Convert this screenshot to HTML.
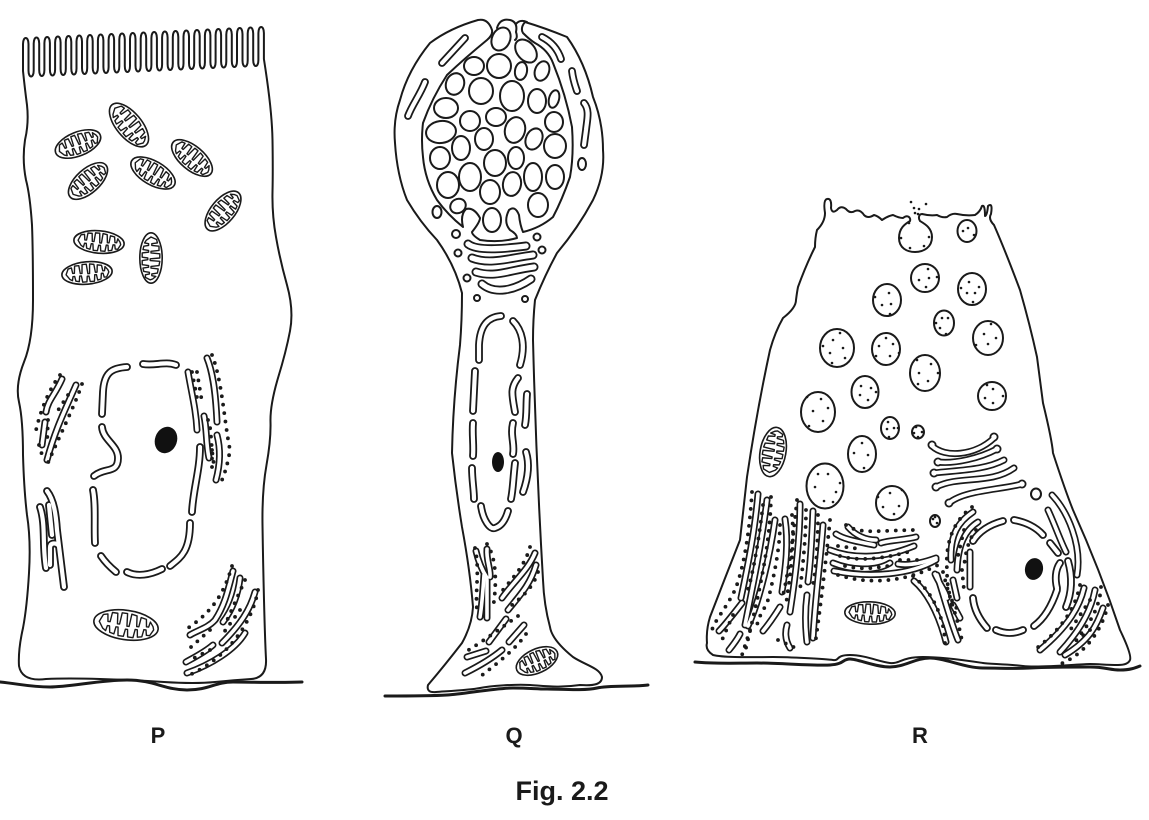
<!DOCTYPE html>
<html lang="en"><head><meta charset="utf-8"><title>Fig. 2.2</title>
<style>
html,body{margin:0;padding:0;background:#fff}
svg{display:block}
.l{fill:none;stroke:#1a1a1a;stroke-width:2;stroke-linecap:round;stroke-linejoin:round}
.b{fill:none;stroke:#1a1a1a;stroke-width:3;stroke-linecap:round;stroke-linejoin:round}
.c ellipse{fill:#fff;stroke:#1a1a1a;stroke-width:2}
.d{fill:none;stroke:#1a1a1a;stroke-width:3.8;stroke-linecap:round;stroke-dasharray:0 8.5}
.s{fill:none;stroke:#1a1a1a;stroke-width:2.6;stroke-linecap:round}
.m1{fill:#fff;stroke:#1a1a1a;stroke-width:1.6;vector-effect:non-scaling-stroke}
.m2{fill:none;stroke:#1a1a1a;stroke-width:1.4;stroke-linejoin:round;vector-effect:non-scaling-stroke}
text{font-family:"Liberation Sans",sans-serif;font-weight:bold;fill:#1a1a1a}
</style></head>
<body>
<svg width="1149" height="820" viewBox="0 0 1149 820" xmlns="http://www.w3.org/2000/svg">
<defs>
<g id="m"><ellipse class="m1" rx="30" ry="14"/><path class="m2" d="M-25,0 L-22,-7 L-18,-8 L-17,-1 L-15,-1 L-14,-10 L-9,-10 L-8,0 L-6,0 L-5,-11 L0,-11 L1,1 L3,1 L4,-11 L9,-10 L10,0 L12,0 L13,-9 L18,-8 L19,-1 L21,-1 L22,-6 L25,-2 L26,1 L23,7 L20,7 L19,2 L17,2 L16,9 L12,10 L11,3 L9,3 L8,11 L3,11 L2,4 L0,4 L-1,11 L-6,11 L-7,3 L-9,3 L-10,10 L-14,9 L-15,3 L-17,3 L-18,8 L-21,6 Z"/></g>

<g id="a" fill="none" stroke-linecap="round" stroke-linejoin="round">
<!-- P nucleus -->
<path d="M127,367 C112,368 104,372 103,392 L102,414"/>
<path d="M143,364 C155,366 165,361 176,365"/>
<path d="M102,427 C103,440 118,445 118,458 C118,474 105,467 94,476"/>
<path d="M93,490 C96,505 94,525 95,543"/>
<path d="M101,556 C105,562 110,567 116,572"/>
<path d="M127,572 C137,577 150,575 162,569"/>
<path d="M170,566 C180,558 190,552 190,523"/>
<path d="M200,447 C200,470 193,490 192,512"/>
<path d="M47,491 C54,500 56,515 57,530 L64,587"/>
<path d="M40,507 C46,525 42,545 46,568"/>
<path d="M49,505 L52,535"/>
<path d="M50,565 L50,548 C50,542 56,543 58,545"/>
<!-- Q tubes -->
<path d="M442,63 L465,38"/>
<path d="M408,116 C412,105 420,95 425,82"/>
<path d="M542,37 C552,42 558,50 561,59"/>
<path d="M572,71 C573,80 575,85 577,91"/>
<path d="M584,103 C590,110 587,120 586,130 L584,145"/>
<path d="M501,316 C488,317 480,325 479,345 L479,360"/>
<path d="M513,321 C522,330 526,345 520,365"/>
<path d="M475,371 L473,411"/>
<path d="M473,423 C472,435 474,445 473,456"/>
<path d="M472,468 C472,480 474,490 474,499"/>
<path d="M518,378 C510,388 512,395 515,412"/>
<path d="M527,394 C526,405 527,415 525,425"/>
<path d="M513,423 C510,435 515,445 513,454"/>
<path d="M526,452 C530,465 528,478 523,492"/>
<path d="M515,463 C513,480 513,490 511,499"/>
<path d="M481,506 C483,520 490,530 495,528 C502,526 506,518 508,511"/>
<!-- R nucleus -->
<path d="M973,541 C980,530 992,524 1003,521"/>
<path d="M1014,520 C1025,522 1036,527 1043,535"/>
<path d="M1050,543 L1058,553"/>
<path d="M1068,561 C1072,575 1073,590 1066,607"/>
<path d="M1060,563 C1055,570 1055,580 1057,588"/>
<path d="M1057,590 C1052,605 1045,618 1034,626"/>
<path d="M996,630 C1005,634 1014,634 1023,630"/>
<path d="M973,598 C974,610 980,620 987,628"/>
</g>

<g id="t" fill="none" stroke-linecap="round" stroke-linejoin="round">
<!-- P ER -->
<path d="M62,379 C55,395 48,400 46,412"/><path d="M76,385 C65,410 55,430 47,460"/><path d="M45,422 L42,445"/>
<path d="M207,358 C214,375 216,400 217,422"/><path d="M188,372 C192,395 196,410 197,430"/><path d="M204,416 C207,430 206,445 209,458"/><path d="M217,435 C221,450 220,465 216,480"/>
<path d="M233,571 C228,590 225,605 215,620 C208,628 198,630 190,635"/><path d="M240,578 C238,595 232,610 223,622"/><path d="M255,592 C250,610 240,625 222,643"/><path d="M213,645 C205,652 195,657 186,662"/><path d="M245,633 C235,650 210,665 187,673"/>
<!-- Q ER -->
<path d="M487,549 C486,560 491,570 490,577"/><path d="M476,551 C478,560 482,570 487,578"/><path d="M487,580 L487,618"/><path d="M484,575 C483,590 482,605 480,617"/>
<path d="M535,553 C528,570 515,580 502,598"/><path d="M536,565 C530,585 520,595 508,610"/>
<path d="M506,619 L489,642"/><path d="M524,625 L509,642"/><path d="M502,650 C490,660 475,668 465,673"/><path d="M486,651 L467,657"/>
<!-- R Golgi -->
<path d="M938,462 C955,464 980,458 997,449"/><path d="M934,473 C960,470 985,470 1004,460"/><path d="M936,487 C960,475 990,485 1014,468"/><path d="M949,503 C965,490 1000,490 1022,484"/><path d="M932,446 C945,458 975,456 994,438"/>
<!-- R middle ER -->
<path d="M836,534 C845,540 860,542 874,545"/><path d="M848,527 C855,535 865,540 876,540"/><path d="M881,543 C890,540 905,540 916,537"/><path d="M830,550 C850,558 880,560 914,546"/><path d="M833,563 C850,570 875,572 890,563"/><path d="M834,571 C870,578 910,575 936,560"/><path d="M898,564 C910,566 925,562 936,558"/>
<!-- R left ER -->
<path d="M758,494 C755,530 748,565 741,598"/><path d="M767,500 C762,540 755,575 745,625"/><path d="M775,520 C770,555 760,600 748,626"/><path d="M785,519 C789,545 785,570 782,592"/><path d="M800,504 C800,540 795,580 790,612"/><path d="M813,511 C812,535 811,560 808,582"/><path d="M823,525 C820,565 815,600 813,638"/><path d="M807,595 C805,610 805,625 807,642"/><path d="M787,625 C785,632 785,640 790,648"/><path d="M780,607 C775,615 768,625 763,631"/><path d="M742,603 C735,612 725,625 719,631"/><path d="M740,634 C737,640 733,645 729,650"/>
<!-- R ER near nucleus -->
<path d="M973,512 C958,522 950,535 951,560"/><path d="M978,522 C965,530 958,545 957,570"/><path d="M970,552 L970,587"/><path d="M953,580 L957,598"/><path d="M935,574 C940,585 945,590 947,598"/><path d="M914,581 C925,590 938,610 946,642"/><path d="M937,575 C945,600 950,620 958,640"/><path d="M953,605 L960,618"/>
<path d="M1052,495 C1068,512 1082,545 1077,575"/><path d="M1048,510 C1055,525 1060,540 1066,552"/>
<path d="M1084,588 C1080,605 1070,625 1040,650"/><path d="M1095,590 C1092,605 1085,625 1060,652"/><path d="M1103,608 C1097,625 1090,640 1065,655"/>
</g>

<g id="g" fill="none" stroke-linecap="round" stroke-linejoin="round">
<path d="M468,244 C478,252 510,248 526,246"/>
<path d="M472,258 C490,265 510,258 533,255"/>
<path d="M476,272 C495,278 510,270 534,267"/>
<path d="M482,284 C495,295 515,290 531,279"/>
<path d="M932,445h.01"/><path d="M994,437h.01"/><path d="M938,462h.01"/><path d="M997,449h.01"/><path d="M934,473h.01"/><path d="M936,487h.01"/><path d="M1022,484h.01"/><path d="M949,503h.01"/>
</g>
</defs>

<!-- ===== Cell P ===== -->
<path class="l" d="M23,71 v-27 c0,-8 5.5,-8 5.5,0 v26.5 c0,8 5.2,8 5.2,0 v-27 c0,-8 5.5,-8 5.5,0 v26.5 c0,8 5.2,8 5.2,0 v-27 c0,-8 5.5,-8 5.5,0 v26.5 c0,8 5.2,8 5.2,0 v-27 c0,-8 5.5,-8 5.5,0 v26.5 c0,8 5.2,8 5.2,0 v-27 c0,-8 5.5,-8 5.5,0 v26.5 c0,8 5.2,8 5.2,0 v-27 c0,-8 5.5,-8 5.5,0 v26.5 c0,8 5.2,8 5.2,0 v-27 c0,-8 5.5,-8 5.5,0 v26.5 c0,8 5.2,8 5.2,0 v-27 c0,-8 5.5,-8 5.5,0 v26.5 c0,8 5.2,8 5.2,0 v-27 c0,-8 5.5,-8 5.5,0 v26.5 c0,8 5.2,8 5.2,0 v-27 c0,-8 5.5,-8 5.5,0 v26.5 c0,8 5.2,8 5.2,0 v-27 c0,-8 5.5,-8 5.5,0 v26.5 c0,8 5.2,8 5.2,0 v-27 c0,-8 5.5,-8 5.5,0 v26.5 c0,8 5.2,8 5.2,0 v-27 c0,-8 5.5,-8 5.5,0 v26.5 c0,8 5.2,8 5.2,0 v-27 c0,-8 5.5,-8 5.5,0 v26.5 c0,8 5.2,8 5.2,0 v-27 c0,-8 5.5,-8 5.5,0 v26.5 c0,8 5.2,8 5.2,0 v-27 c0,-8 5.5,-8 5.5,0 v26.5 c0,8 5.2,8 5.2,0 v-27 c0,-8 5.5,-8 5.5,0 v26.5 c0,8 5.2,8 5.2,0 v-27 c0,-8 5.5,-8 5.5,0 v26.5 c0,8 5.2,8 5.2,0 v-27 c0,-8 5.5,-8 5.5,0 v26.5 c0,8 5.2,8 5.2,0 v-27 c0,-8 5.5,-8 5.5,0 v26.5 c0,8 5.2,8 5.2,0 v-27 c0,-8 5.5,-8 5.5,0 v26.5 c0,8 5.2,8 5.2,0 v-27 c0,-8 5.5,-8 5.5,0 v26.5 c0,8 5.2,8 5.2,0 v-27 c0,-8 5.5,-8 5.5,0 v26 Q272,110 272.5,140 Q273,170 272.5,192 Q272,215 276,237 Q280,260 287,285 Q294,310 290,331 Q286,352 278,378 Q270,405 270.5,422 Q271,440 266.5,465 Q262,490 262.5,525 Q263,560 264,600 Q265,640 266,659 Q267,678 251,679 Q235,680 215,682 Q195,684 164,682 Q133,680 100,679 Q67,678 46,679 Q22,682 19,666 Q18,650 23,628 Q27,607 29,573 Q31,540 27,515 Q24,490 23,455 Q23,420 19,402 Q15,385 24,362 Q33,340 33,300 Q33,250 32,225 Q30,195 26,180 Q22,160 25,140 Q29,123 27,105 Q25,90 23,71"/>
<path class="b" d="M0,682 C20,684 30,687 50,687 S100,680 127,680 S165,690 187,690 S215,682 233,682 S280,683 302,682"/>
<use href="#m" transform="translate(78 144) rotate(-22) scale(.8 .85)"/>
<use href="#m" transform="translate(129 125) rotate(50) scale(.88 .9)"/>
<use href="#m" transform="translate(88 181) rotate(-42) scale(.8 .85)"/>
<use href="#m" transform="translate(153 173) rotate(30) scale(.82 .85)"/>
<use href="#m" transform="translate(192 158) rotate(40) scale(.82 .85)"/>
<use href="#m" transform="translate(223 211) rotate(-50) scale(.8 .85)"/>
<use href="#m" transform="translate(99 242) rotate(5) scale(.84 .8)"/>
<use href="#m" transform="translate(87 273) rotate(-5) scale(.84 .8)"/>
<use href="#m" transform="translate(151 258) rotate(90) scale(.84 .8)"/>
<use href="#m" transform="translate(126 625) rotate(8) scale(1.08 1.05)"/>
<ellipse cx="166" cy="440" rx="11" ry="13.5" transform="rotate(20 166 440)" fill="#111"/>

<!-- ===== Cell Q ===== -->
<path class="l" d="M492,30 Q488,18 478,20 Q450,28 430,43 Q408,70 400,100 Q393,120 395,143 Q397,175 407,200 Q420,222 437,240 Q455,265 462,293 Q462,320 460,345 Q453,400 452,453 Q456,490 462,527 Q470,570 473,607 Q472,625 462,643 Q445,665 428,685 Q426,693 436,692 C450,691 470,690 480,688 S515,684 530,685 S560,688 580,685 C595,686 602,684 602,677 C600,668 585,665 573,657 Q552,640 550,627 Q544,605 543,580 Q536,460 533,340 Q533,320 535,300 Q545,275 557,253 Q578,228 593,200 Q605,175 603,150 Q603,122 593,97 Q585,62 567,37 Q545,28 525,22 Q520,28 523,33 Q530,40 535,43 Q548,50 553,63 Q566,95 572,127 Q574,155 570,177 Q562,200 553,217 Q540,228 523,232 Q520,225 519,215 Q515,205 509,210 Q503,222 510,230 Q517,234 517,238 Q500,243 480,240 Q472,235 472,232 Q480,222 480,218 Q474,207 466,209 Q460,215 463,227 Q448,215 437,200 Q425,180 423,157 Q421,140 423,123 Q432,98 447,75 Q465,58 487,40 Q493,35 492,30"/>
<path class="l" d="M497,28 Q500,18 510,20 Q518,22 516,32 Q518,38 515,40 M516,24 Q520,19 527,22"/>
<g class="c">
<ellipse cx="501" cy="39" rx="9" ry="12" transform="rotate(25 501 39)"/>
<ellipse cx="526" cy="51" rx="9" ry="13" transform="rotate(-40 526 51)"/>
<ellipse cx="474" cy="66" rx="10" ry="9"/><ellipse cx="499" cy="66" rx="12" ry="12"/>
<ellipse cx="521" cy="71" rx="6" ry="9" transform="rotate(10 521 71)"/>
<ellipse cx="542" cy="71" rx="7" ry="10" transform="rotate(20 542 71)"/>
<ellipse cx="455" cy="84" rx="9" ry="11" transform="rotate(20 455 84)"/>
<ellipse cx="481" cy="91" rx="12" ry="13"/><ellipse cx="512" cy="96" rx="12" ry="15"/>
<ellipse cx="537" cy="101" rx="9" ry="12"/>
<ellipse cx="554" cy="99" rx="5" ry="9" transform="rotate(15 554 99)"/>
<ellipse cx="446" cy="108" rx="12" ry="10"/><ellipse cx="470" cy="121" rx="10" ry="10"/>
<ellipse cx="496" cy="117" rx="10" ry="9"/><ellipse cx="554" cy="122" rx="9" ry="10"/>
<ellipse cx="441" cy="132" rx="15" ry="11" transform="rotate(-8 441 132)"/>
<ellipse cx="515" cy="130" rx="10" ry="13" transform="rotate(15 515 130)"/>
<ellipse cx="484" cy="139" rx="9" ry="11"/>
<ellipse cx="534" cy="139" rx="8" ry="11" transform="rotate(25 534 139)"/>
<ellipse cx="555" cy="146" rx="11" ry="12"/><ellipse cx="461" cy="148" rx="9" ry="12"/>
<ellipse cx="440" cy="158" rx="10" ry="11"/><ellipse cx="516" cy="158" rx="8" ry="11"/>
<ellipse cx="495" cy="163" rx="11" ry="13"/><ellipse cx="470" cy="177" rx="11" ry="14"/>
<ellipse cx="533" cy="177" rx="9" ry="14"/><ellipse cx="555" cy="177" rx="9" ry="12"/>
<ellipse cx="512" cy="184" rx="9" ry="12" transform="rotate(10 512 184)"/>
<ellipse cx="448" cy="185" rx="11" ry="13"/><ellipse cx="490" cy="192" rx="10" ry="12"/>
<ellipse cx="538" cy="205" rx="10" ry="12"/>
<ellipse cx="458" cy="206" rx="8" ry="7" transform="rotate(-30 458 206)"/>
<ellipse cx="492" cy="220" rx="9" ry="12"/>
<ellipse cx="437" cy="212" rx="4.5" ry="6"/><ellipse cx="456" cy="234" rx="4" ry="4"/>
<ellipse cx="458" cy="253" rx="3.5" ry="3.5"/><ellipse cx="467" cy="278" rx="3.5" ry="3.5"/>
<ellipse cx="477" cy="298" rx="3" ry="3"/><ellipse cx="525" cy="299" rx="3" ry="3"/>
<ellipse cx="537" cy="237" rx="3.5" ry="3.5"/><ellipse cx="542" cy="250" rx="3.5" ry="3.5"/>
<ellipse cx="582" cy="164" rx="4" ry="6"/>
</g>
<use href="#m" transform="translate(537 661) rotate(-25) scale(.74 .85)"/>
<ellipse cx="498" cy="462" rx="6" ry="10" fill="#111"/>
<path class="b" d="M385,696 C405,696 430,696 447,695 S495,688 513,688 S535,689 547,689 S585,691 597,688 S635,687 648,685"/>

<!-- ===== Cell R ===== -->
<path class="l" d="M825,213 Q823,200 827,199 Q832,198 831,208 Q832,214 837,210 Q841,205 846,209 Q850,214 855,211 Q860,209 864,215 Q868,219 874,215 Q878,216 882,220 Q888,216 893,215 Q899,218 903,218 C908,214 911,218 910,221 C905,224 899,228 899,238 C899,248 907,252 915,252 C924,252 932,247 932,237 C932,228 925,224 920,221 C918,218 919,214 922,214 Q930,216 937,215 Q942,218 947,217 Q952,213 957,214 Q966,216 975,215 Q980,212 982,206 Q985,204 985,216 Q987,216 988,206 Q993,202 991,214 Q988,219 994,225 Q1005,250 1020,290 Q1030,325 1037,357 Q1040,380 1043,403 Q1052,440 1053,453 Q1065,490 1073,510 Q1100,570 1120,630 Q1132,655 1130,660 Q1128,665 1118,665 C1105,665 1100,664 1090,664 S1040,668 1023,666 S990,664 983,663 S945,657 923,657 S900,664 890,663 S865,655 850,655 S840,661 833,660 S790,657 773,657 S725,658 713,655 Q705,650 707,643 Q706,630 710,617 Q725,578 740,540 Q744,505 747,477 Q757,410 770,350 Q775,332 783,318 Q796,308 796,300 Q797,292 798,287 Q806,265 815,247 Q815,238 817,230 Q825,222 825,213"/>
<path class="b" d="M695,662 C715,664 735,663 757,663 S815,666 830,665 S842,659 850,659 S875,667 890,667 S915,658 930,658 S965,668 983,668 S1010,669 1030,668 S1075,667 1090,667 S1110,670 1120,670 S1135,668 1140,666"/>
<g class="c">
<ellipse cx="967" cy="231" rx="9.5" ry="11"/><ellipse cx="925" cy="278" rx="14" ry="14"/>
<ellipse cx="972" cy="289" rx="14" ry="16"/><ellipse cx="887" cy="300" rx="14" ry="16"/>
<ellipse cx="944" cy="323" rx="10" ry="12.5"/><ellipse cx="988" cy="338" rx="15" ry="17"/>
<ellipse cx="837" cy="348" rx="17" ry="19"/><ellipse cx="886" cy="349" rx="14" ry="16"/>
<ellipse cx="925" cy="373" rx="15" ry="18"/><ellipse cx="992" cy="396" rx="14" ry="14"/>
<ellipse cx="865" cy="392" rx="13.5" ry="16"/><ellipse cx="818" cy="412" rx="17" ry="20"/>
<ellipse cx="890" cy="428" rx="9" ry="11"/><ellipse cx="918" cy="432" rx="6" ry="6.5"/>
<ellipse cx="862" cy="454" rx="14" ry="18"/><ellipse cx="825" cy="486" rx="18.5" ry="22.5"/>
<ellipse cx="892" cy="503" rx="16" ry="17"/><ellipse cx="935" cy="521" rx="5" ry="6"/>
<ellipse cx="1036" cy="494" rx="5" ry="5.5"/>
</g>
<path class="s" d="M963,231h.01M968,228h.01M974,235h.01M928,269h.01M919,280h.01M929,278h.01M926,287h.01M937,277h.01M969,282h.01M979,287h.01M967,293h.01M975,293h.01M973,302h.01M961,288h.01M889,293h.01M875,297h.01M882,305h.01M891,304h.01M890,314h.01M942,318h.01M948,318h.01M936,323h.01M940,328h.01M946,334h.01M991,324h.01M984,334h.01M996,338h.01M988,344h.01M976,345h.01M840,333h.01M833,340h.01M843,348h.01M823,346h.01M830,353h.01M845,358h.01M832,363h.01M886,338h.01M879,346h.01M893,344h.01M876,356h.01M890,356h.01M899,353h.01M917,360h.01M931,364h.01M919,373h.01M938,373h.01M928,381h.01M918,384h.01M987,385h.01M993,389h.01M985,398h.01M993,403h.01M1003,396h.01M861,386h.01M871,388h.01M860,395h.01M868,400h.01M876,392h.01M807,397h.01M821,399h.01M828,408h.01M813,411h.01M823,421h.01M809,426h.01M888,422h.01M894,428h.01M887,429h.01M889,437h.01M898,428h.01M916,427h.01M922,432h.01M914,433h.01M918,437h.01M862,443h.01M854,453h.01M868,455h.01M864,468h.01M818,474h.01M828,474h.01M815,487h.01M836,492h.01M824,501h.01M833,502h.01M840,483h.01M890,493h.01M878,497h.01M902,490h.01M883,507h.01M899,506h.01M894,514h.01M933,519h.01M937,523h.01M935,517h.01M909,223h.01M901,238h.01M910,248h.01M924,246h.01M929,237h.01M911,202h.01M926,204h.01M914,208h.01M919,209h.01M915,213h.01M918,214h.01"/>
<use href="#m" transform="translate(773 452) rotate(-80) scale(.83 .92)"/>
<use href="#m" transform="translate(870 613) rotate(2) scale(.84 .8)"/>
<ellipse cx="1034" cy="569" rx="9" ry="11" transform="rotate(12 1034 569)" fill="#111"/>

<!-- hollow membranes -->
<use href="#a" stroke="#1a1a1a" stroke-width="7.8"/>
<use href="#t" stroke="#1a1a1a" stroke-width="7"/>
<use href="#g" stroke="#1a1a1a" stroke-width="9"/>
<use href="#a" stroke="#fff" stroke-width="4.2"/>
<use href="#t" stroke="#fff" stroke-width="3.6"/>
<use href="#g" stroke="#fff" stroke-width="5.4"/>

<!-- ribosome dots -->
<g class="d">
<path d="M60,375 C50,388 40,410 35,435"/><path d="M82,384 C75,405 60,435 47,465"/><path d="M68,395 L55,415"/><path d="M48,420 L47,445"/><path d="M39,445 L43,458"/>
<path d="M212,355 C222,380 224,420 230,450 C228,462 226,470 222,480"/><path d="M192,372 L198,403"/><path d="M197,372 L202,402"/><path d="M208,420 C212,430 210,440 214,465"/><path d="M212,450 L212,470"/>
<path d="M232,566 C225,590 215,610 188,628"/><path d="M258,590 C252,625 225,660 187,676"/><path d="M245,580 L225,625"/><path d="M240,610 L222,635"/><path d="M210,630 L190,648"/><path d="M210,650 L190,660"/>
<path d="M487,544 C498,560 496,590 493,608"/><path d="M475,548 C480,570 475,590 477,610"/><path d="M530,547 C525,565 515,575 503,590"/><path d="M538,572 C534,585 525,595 512,605"/><path d="M518,616 C505,625 485,640 467,651"/><path d="M526,634 C515,650 495,665 481,676"/>
<path d="M846,525 C860,535 880,530 920,530"/><path d="M838,575 C870,585 905,582 938,565"/><path d="M840,556 C860,562 885,558 908,552"/><path d="M845,566 C860,570 875,568 888,566"/><path d="M900,560 L920,560"/><path d="M838,546 L860,549"/>
<path d="M752,492 C750,525 745,565 735,590 C725,610 715,620 712,630"/><path d="M763,505 C760,530 755,565 748,590"/><path d="M771,497 C770,545 760,590 745,652"/><path d="M780,525 C780,550 772,585 768,600 C762,615 755,620 758,630"/><path d="M792,515 C795,545 790,575 786,605"/><path d="M797,500 C793,540 788,575 782,600"/><path d="M806,510 C806,535 803,565 800,590"/><path d="M818,515 C818,540 816,570 813,585"/><path d="M830,520 C825,570 820,610 815,645"/><path d="M733,615 L722,640"/><path d="M750,630 L742,655"/><path d="M778,640 L800,650"/>
<path d="M972,507 C955,520 945,540 947,570 C947,590 950,600 958,610"/><path d="M964,530 L957,560"/><path d="M976,530 C968,540 965,555 964,568"/><path d="M962,570 L964,590"/>
<path d="M913,576 C930,590 945,615 945,645"/><path d="M943,572 C950,600 960,625 962,642"/>
<path d="M1080,585 C1075,610 1060,630 1037,648"/><path d="M1101,587 C1100,605 1092,620 1080,635"/><path d="M1108,605 C1102,630 1085,655 1058,665"/><path d="M1090,600 L1067,635"/><path d="M1090,630 L1070,645"/>
</g>

<!-- labels -->
<text x="158" y="743" font-size="22" text-anchor="middle">P</text>
<text x="514" y="743" font-size="22" text-anchor="middle">Q</text>
<text x="920" y="743" font-size="22" text-anchor="middle">R</text>
<text x="562" y="800" font-size="27" text-anchor="middle">Fig. 2.2</text>
</svg>
</body></html>
